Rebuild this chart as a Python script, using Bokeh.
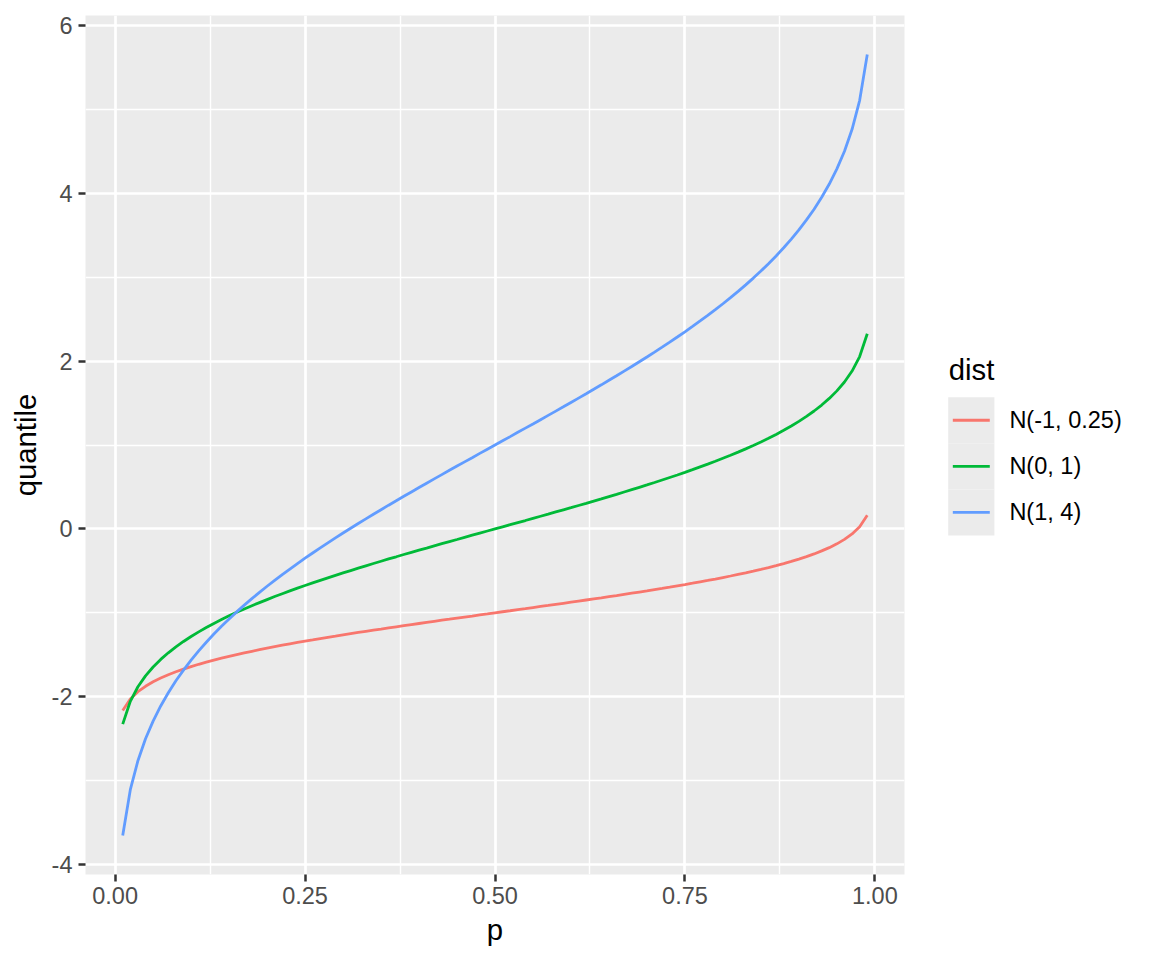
from bokeh.plotting import figure
from bokeh.models import Range1d, FixedTicker
from bokeh.layouts import row
from bokeh.core.properties import value
from bokeh.embed import file_html
from bokeh.resources import INLINE

# ---------------- data ----------------
p_vals = [round(0.01 * i, 2) for i in range(1, 100)]

q_n_m1_025 = [
    -2.163, -2.027, -1.940, -1.875, -1.822, -1.777, -1.738, -1.702, -1.670, -1.641,
    -1.613, -1.587, -1.563, -1.540, -1.518, -1.497, -1.477, -1.458, -1.439, -1.421,
    -1.403, -1.386, -1.369, -1.353, -1.337, -1.322, -1.306, -1.291, -1.277, -1.262,
    -1.248, -1.234, -1.220, -1.206, -1.193, -1.179, -1.166, -1.153, -1.140, -1.127,
    -1.114, -1.101, -1.088, -1.076, -1.063, -1.050, -1.038, -1.025, -1.013, -1.000,
    -0.987, -0.975, -0.962, -0.950, -0.937, -0.924, -0.912, -0.899, -0.886, -0.873,
    -0.860, -0.847, -0.834, -0.821, -0.807, -0.794, -0.780, -0.766, -0.752, -0.738,
    -0.723, -0.709, -0.694, -0.678, -0.663, -0.647, -0.630, -0.614, -0.597, -0.579,
    -0.561, -0.542, -0.523, -0.503, -0.482, -0.460, -0.437, -0.413, -0.387, -0.359,
    -0.330, -0.298, -0.262, -0.223, -0.178, -0.125, -0.060, 0.027, 0.163,
]

q_n_0_1 = [
    -2.326, -2.054, -1.881, -1.751, -1.645, -1.555, -1.476, -1.405, -1.341, -1.282,
    -1.227, -1.175, -1.126, -1.080, -1.036, -0.994, -0.954, -0.915, -0.878, -0.842,
    -0.806, -0.772, -0.739, -0.706, -0.674, -0.643, -0.613, -0.583, -0.553, -0.524,
    -0.496, -0.468, -0.440, -0.412, -0.385, -0.358, -0.332, -0.305, -0.279, -0.253,
    -0.228, -0.202, -0.176, -0.151, -0.126, -0.100, -0.075, -0.050, -0.025, 0.000,
    0.025, 0.050, 0.075, 0.100, 0.126, 0.151, 0.176, 0.202, 0.228, 0.253,
    0.279, 0.305, 0.332, 0.358, 0.385, 0.412, 0.440, 0.468, 0.496, 0.524,
    0.553, 0.583, 0.613, 0.643, 0.674, 0.706, 0.739, 0.772, 0.806, 0.842,
    0.878, 0.915, 0.954, 0.994, 1.036, 1.080, 1.126, 1.175, 1.227, 1.282,
    1.341, 1.405, 1.476, 1.555, 1.645, 1.751, 1.881, 2.054, 2.326,
]

q_n_1_4 = [
    -3.653, -3.107, -2.762, -2.501, -2.290, -2.110, -1.952, -1.810, -1.682, -1.563,
    -1.453, -1.350, -1.253, -1.161, -1.073, -0.989, -0.908, -0.831, -0.756, -0.683,
    -0.613, -0.544, -0.478, -0.413, -0.349, -0.287, -0.226, -0.166, -0.107, -0.049,
    0.008, 0.065, 0.120, 0.175, 0.229, 0.283, 0.336, 0.389, 0.441, 0.493,
    0.545, 0.596, 0.647, 0.698, 0.749, 0.799, 0.849, 0.900, 0.950, 1.000,
    1.050, 1.100, 1.151, 1.201, 1.251, 1.302, 1.353, 1.404, 1.455, 1.507,
    1.559, 1.611, 1.664, 1.717, 1.771, 1.825, 1.880, 1.935, 1.992, 2.049,
    2.107, 2.166, 2.226, 2.287, 2.349, 2.413, 2.478, 2.544, 2.613, 2.683,
    2.756, 2.831, 2.908, 2.989, 3.073, 3.161, 3.253, 3.350, 3.453, 3.563,
    3.682, 3.810, 3.952, 4.110, 4.290, 4.501, 4.762, 5.107, 5.653,
]

dist_labels = ["N(-1, 0.25)", "N(0, 1)", "N(1, 4)"]
dist_colors = ["#F8766D", "#00BA38", "#619CFF"]
series = [q_n_m1_025, q_n_0_1, q_n_1_4]

x_ticks = [0.0, 0.25, 0.5, 0.75, 1.0]
x_tick_labels = ["0.00", "0.25", "0.50", "0.75", "1.00"]
x_minor = [0.125, 0.375, 0.625, 0.875]
y_ticks = [-4, -2, 0, 2, 4, 6]
y_tick_labels = ["-4", "-2", "0", "2", "4", "6"]
y_minor = [-3, -1, 1, 3, 5]

legend_title = "dist"
x_title = "p"
y_title = "quantile"

# ---------------- style ----------------
FONT = "Liberation Sans"
TICK_FS = "23.5px"
TITLE_FS = "29.3px"
PANEL_BG = "#EBEBEB"

TOTAL_H = 955
BORDER_L, BORDER_T = 85, 15
FRAME_W, FRAME_H = 819, 859
MAIN_W = BORDER_L + FRAME_W + 10
BORDER_B = TOTAL_H - BORDER_T - FRAME_H

# ---------------- main figure ----------------
p = figure(
    width=MAIN_W, height=TOTAL_H,
    x_range=Range1d(-0.039, 1.039), y_range=Range1d(-4.118, 6.118),
    output_backend="svg", toolbar_location=None,
    min_border_left=BORDER_L, min_border_top=BORDER_T,
    min_border_right=10, min_border_bottom=BORDER_B,
)
p.background_fill_color = PANEL_BG
p.border_fill_color = "white"
p.outline_line_color = None

for ys, col in zip(series, dist_colors):
    p.line(p_vals, ys, line_color=col, line_width=2.8)

p.xaxis.ticker = FixedTicker(ticks=x_ticks, minor_ticks=x_minor)
p.yaxis.ticker = FixedTicker(ticks=y_ticks, minor_ticks=y_minor)
p.xaxis.major_label_overrides = {t: l for t, l in zip(x_ticks, x_tick_labels)}
p.yaxis.major_label_overrides = {t: l for t, l in zip(y_ticks, y_tick_labels)}

for ax in (p.xaxis[0], p.yaxis[0]):
    ax.axis_line_color = None
    ax.major_tick_in = 0
    ax.major_tick_out = 7
    ax.major_tick_line_color = "#333333"
    ax.major_tick_line_width = 2.5
    ax.minor_tick_line_color = None
    ax.major_label_text_font = FONT
    ax.major_label_text_font_size = TICK_FS
    ax.major_label_text_color = "#4D4D4D"
    ax.axis_label_text_font = FONT
    ax.axis_label_text_font_size = TITLE_FS
    ax.axis_label_text_font_style = "normal"
    ax.axis_label_text_color = "black"

p.xaxis.axis_label = x_title
p.yaxis.axis_label = y_title
p.xaxis.major_label_standoff = 5
p.yaxis.major_label_standoff = 6
p.xaxis.axis_label_standoff = 6
p.yaxis.axis_label_standoff = 7

for g in (p.xgrid[0], p.ygrid[0]):
    g.grid_line_color = "white"
    g.grid_line_width = 2.7
    g.minor_grid_line_color = "white"
    g.minor_grid_line_width = 1.4

# ---------------- legend figure (pixel coordinates) ----------------
LW = 230
frame_top, frame_bottom = BORDER_T, BORDER_T + FRAME_H
lg = figure(
    width=LW, height=TOTAL_H,
    x_range=Range1d(0, LW), y_range=Range1d(frame_bottom, frame_top),
    output_backend="svg", toolbar_location=None,
    x_axis_type=None, y_axis_type=None,
    min_border_left=0, min_border_right=0,
    min_border_top=BORDER_T, min_border_bottom=BORDER_B,
)
lg.outline_line_color = None
lg.background_fill_color = "white"
lg.border_fill_color = "white"
lg.xgrid.visible = False
lg.ygrid.visible = False

key_left, key_w, key_top0, key_h = 947.7 - MAIN_W, 46.2, 396.7, 46.1
n = len(dist_labels)
tops = [key_top0 + key_h * i for i in range(n)]
centers = [t + key_h / 2 for t in tops]

lg.quad(left=[key_left] * n, right=[key_left + key_w] * n,
        top=tops, bottom=[t + key_h for t in tops],
        fill_color=PANEL_BG, line_color=None)
lg.segment(x0=[key_left + 0.1 * key_w] * n, x1=[key_left + 0.9 * key_w] * n,
           y0=centers, y1=centers, line_color=dist_colors, line_width=2.8)
lg.text(x=[key_left + key_w + 15] * n, y=[c - 0.5 for c in centers], text=dist_labels,
        text_font=value(FONT), text_font_size=TICK_FS, text_color="black",
        text_baseline="alphabetic", text_align="left")
lg.text(x=[key_left + 0.6], y=[369], text=[legend_title],
        text_font=value(FONT), text_font_size=TITLE_FS, text_color="black",
        text_baseline="alphabetic", text_align="left")

layout = row(p, lg, spacing=0)
open("out.html", "w").write(file_html(layout, INLINE))
